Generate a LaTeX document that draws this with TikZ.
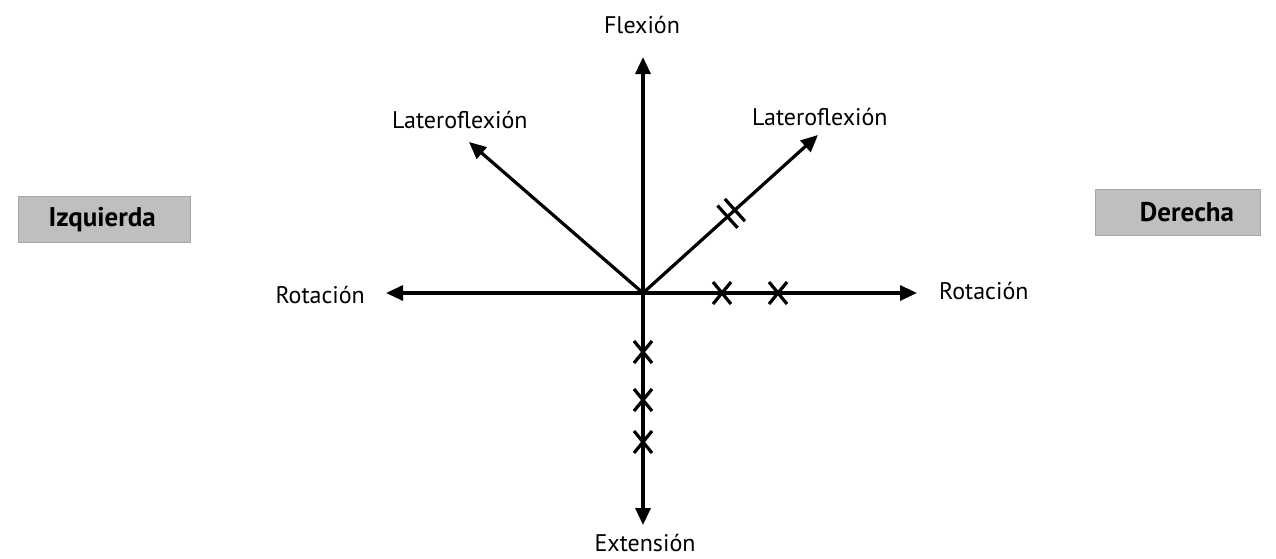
\documentclass[tikz,border=0pt]{standalone}
\usepackage{fontspec}
\setmainfont{PT Sans}
\usetikzlibrary{arrows.meta,calc}
\begin{document}
\begin{tikzpicture}[x=1pt,y=-1pt,
  axis/.style={line width=3.2pt,-{Triangle[length=17pt,width=15pt]}},
  lbl/.style={font=\fontsize{24}{28}\selectfont,inner sep=0pt},
  sidebox/.style={fill=black!25,draw=black!35,line width=0.8pt,minimum height=46pt,inner sep=0pt},
  boxtext/.style={font=\bfseries\fontsize{27}{32}\selectfont,inner sep=0pt},
  mk/.style={line width=3.2pt}]
\useasboundingbox (0,0) rectangle (1276,558);
% centre and arrow tips
\coordinate (O) at (643,293);
\coordinate (tF) at (643,57);
\coordinate (tE) at (643,525);
\coordinate (tRL) at (386,293);
\coordinate (tRR) at (917,293);
\coordinate (tLL) at (469,142);
\coordinate (tLR) at (818,135);
% labels
\node[lbl,anchor=base] (flex) at (642,33) {Flexión};
\node[lbl,anchor=base] (ext) at (645,551) {Extensión};
\node[lbl,anchor=base east] (rotL) at (365,303) {Rotación};
\node[lbl,anchor=base west] (rotR) at (939,299) {Rotación};
\node[lbl,anchor=base west] (latL) at (392,128) {Lateroflexión};
\node[lbl,anchor=base west] (latR) at (752,125) {Lateroflexión};
% side boxes
\node[sidebox,minimum width=172pt] (izq) at (104,219.5) {};
\node[boxtext,anchor=east] (izqt) at (156,219.5) {Izquierda};
\node[sidebox,minimum width=165pt] (der) at (1177.5,212) {};
\node[boxtext] (dert) at (1187,212) {Derecha};
% axes
\draw[axis] (O) -- (tF);
\draw[axis] (O) -- (tE);
\draw[axis] (O) -- (tRL);
\draw[axis] (O) -- (tRR);
\draw[axis] (O) -- (tLL);
\draw[axis] (O) -- (tLR);
% double tick
\coordinate (d1) at ($(O)!0.483!(tLR)$);
\coordinate (d2) at ($(O)!0.525!(tLR)$);
\draw[mk] ($(d1)!15pt!90:(tLR)$) -- ($(d1)!15pt!-90:(tLR)$);
\draw[mk] ($(d2)!15pt!90:(tLR)$) -- ($(d2)!15pt!-90:(tLR)$);
% crosses
\foreach \p in {(722,293),(778,293),(643,352),(643,400),(643,442)}{
  \draw[mk] \p ++(-9,-11) -- ++(18,22);
  \draw[mk] \p ++(-9,11) -- ++(18,-22);
}
\end{tikzpicture}
\end{document}
